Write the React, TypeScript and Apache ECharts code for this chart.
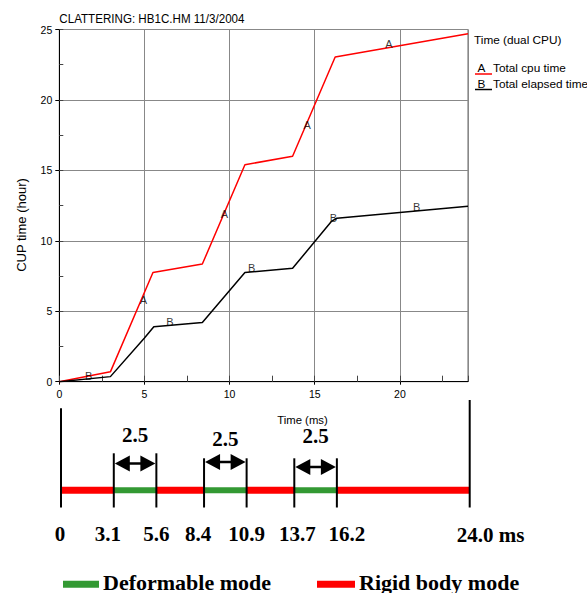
import React, { useEffect, useRef } from "react";
import * as echarts from "echarts";

// ---------- Upper chart: CPU time vs. simulated time ----------
const xTickLabels = [0, 5, 10, 15, 20];
const yTickLabels = [0, 5, 10, 15, 20, 25];
const cpuTime: number[][] = [
  [0, 0], [3.0, 0.7], [5.5, 7.75], [8.4, 8.35], [10.9, 15.4],
  [13.7, 16.0], [16.2, 23.05], [24, 24.7],
];
const elapsedTime: number[][] = [
  [0, 0], [3.0, 0.36], [5.0, 3.1], [5.55, 3.9], [8.4, 4.2], [10.9, 7.75],
  [13.7, 8.05], [16.0, 11.4], [16.3, 11.6], [24, 12.45],
];
const cpuMarks: number[][] = [[4.94, 5.8], [9.7, 11.9], [14.55, 18.2], [19.35, 24.0]];
const elapsedMarks: number[][] = [[1.72, 0.44], [6.5, 4.27], [11.3, 8.06], [16.1, 11.6], [20.98, 12.4]];

// ---------- Lower chart: mode timeline ----------
const modeBounds = [0, 3.1, 5.6, 8.4, 10.9, 13.7, 16.2, 24.0];
const boundLabels = ["0", "3.1", "5.6", "8.4", "10.9", "13.7", "16.2", "24.0 ms"];
const deformableSpans: number[][] = [[3.1, 5.6], [8.4, 10.9], [13.7, 16.2]];
const rigidSpans: number[][] = [[0, 3.1], [5.6, 8.4], [10.9, 13.7], [16.2, 24.0]];

const SANS = "'Liberation Sans', Arial, Helvetica, sans-serif";
const SERIF = "'Liberation Serif', 'Times New Roman', serif";
const RED = "#ff0000";
const GREEN = "#339933";

export default function App() {
  const ref = useRef<HTMLDivElement>(null);

  useEffect(() => {
    document.body.style.margin = "0";
    if (!ref.current) return;
    const chart = echarts.init(ref.current, undefined, { renderer: "svg" });

    const BAR_LEVEL = 100.3;
    const LINE_BOTTOM = 117.5;
    const arrowLevels = [73.5, 72, 77];
    const spanTextLevels = [45, 49, 46];
    const labelNudge = [-1, -6, 0, -6, 0, 3, 10, -13];

    const barItem = (color: string, width: number) => (params: any, api: any) => {
      const a = api.coord([api.value(0), BAR_LEVEL]);
      const b = api.coord([api.value(1), BAR_LEVEL]);
      return {
        type: "line",
        shape: { x1: a[0], y1: a[1], x2: b[0], y2: b[1] },
        style: { stroke: color, lineWidth: width },
      };
    };

    const option: any = {
      animation: false,
      backgroundColor: "#ffffff",
      grid: [
        { left: 59.3, top: 29.5, width: 408.7, height: 352.2, show: true, borderColor: "#666", borderWidth: 1 },
        { left: 61, top: 390, width: 408.7, height: 200, show: false },
      ],
      xAxis: [
        {
          type: "value", gridIndex: 0, min: 0, max: 24,
          interval: xTickLabels[1] - xTickLabels[0], position: "bottom",
          axisLine: { show: true, onZero: false, lineStyle: { color: "#000", width: 1 } },
          axisTick: { show: true, length: 3, lineStyle: { color: "#000" } },
          axisLabel: { color: "#000", fontSize: 10.5, fontFamily: SANS, margin: 7, showMaxLabel: false },
          splitLine: { show: true, lineStyle: { color: "#888", width: 1 } },
        },
        {
          type: "value", gridIndex: 0, min: 0, max: 24, interval: 2.5, position: "bottom",
          axisLine: { show: false },
          axisTick: { show: true, inside: true, length: 6, lineStyle: { color: "#444" } },
          axisLabel: { show: false }, splitLine: { show: false },
        },
        { type: "value", gridIndex: 1, min: 0, max: 24, show: false },
      ],
      yAxis: [
        {
          type: "value", gridIndex: 0, min: 0, max: 25,
          interval: yTickLabels[1] - yTickLabels[0], position: "left",
          axisLine: { show: true, onZero: false, lineStyle: { color: "#000", width: 1 } },
          axisTick: { show: true, length: 4, lineStyle: { color: "#000" } },
          axisLabel: { color: "#000", fontSize: 10.5, fontFamily: SANS, margin: 7 },
          splitLine: { show: true, lineStyle: { color: "#888", width: 1 } },
        },
        {
          type: "value", gridIndex: 0, min: 0, max: 25, interval: 2.5, position: "left",
          axisLine: { show: false },
          axisTick: { show: true, inside: true, length: 4, lineStyle: { color: "#444" } },
          axisLabel: { show: false }, splitLine: { show: false },
        },
        { type: "value", gridIndex: 1, min: 0, max: 200, inverse: true, show: false },
      ],
      series: [
        {
          type: "line", name: "Total cpu time", xAxisIndex: 0, yAxisIndex: 0,
          data: cpuTime, symbol: "none", lineStyle: { color: RED, width: 1.5 },
          itemStyle: { color: RED }, z: 3, silent: true,
        },
        {
          type: "line", name: "Total elapsed time", xAxisIndex: 0, yAxisIndex: 0,
          data: elapsedTime, symbol: "none", lineStyle: { color: "#000", width: 1.5 },
          itemStyle: { color: "#000" }, z: 3, silent: true,
        },
        {
          type: "scatter", xAxisIndex: 0, yAxisIndex: 0, data: cpuMarks, symbolSize: 1,
          itemStyle: { color: "rgba(0,0,0,0)" }, silent: true, z: 5,
          label: { show: true, position: "inside", formatter: "A", color: "#000", fontSize: 11, fontFamily: SANS, textBorderWidth: 0 },
        },
        {
          type: "scatter", xAxisIndex: 0, yAxisIndex: 0, data: elapsedMarks, symbolSize: 1,
          itemStyle: { color: "rgba(0,0,0,0)" }, silent: true, z: 5,
          label: { show: true, position: "inside", formatter: "B", color: "#000", fontSize: 11, fontFamily: SANS, textBorderWidth: 0 },
        },
        // timeline bars
        {
          type: "custom", xAxisIndex: 2, yAxisIndex: 2, data: rigidSpans, clip: false, silent: true,
          renderItem: barItem(RED, 7), z: 2,
        },
        {
          type: "custom", xAxisIndex: 2, yAxisIndex: 2, data: deformableSpans, clip: false, silent: true,
          renderItem: barItem(GREEN, 6), z: 3,
        },
        // vertical boundary lines
        {
          type: "custom", xAxisIndex: 2, yAxisIndex: 2, clip: false, silent: true, z: 4,
          data: modeBounds.map((v, i) => [v, i]),
          renderItem: (params: any, api: any) => {
            const i = api.value(1);
            const n = modeBounds.length;
            const top = i === 0 ? 18.3 : i === n - 1 ? 10 : i <= 2 ? 63.3 : 68.3;
            const a = api.coord([api.value(0), top]);
            const b = api.coord([api.value(0), LINE_BOTTOM]);
            return {
              type: "line",
              shape: { x1: a[0], y1: a[1], x2: b[0], y2: b[1] },
              style: { stroke: "#000", lineWidth: 2 },
            };
          },
        },
        // arrows and span durations
        {
          type: "custom", xAxisIndex: 2, yAxisIndex: 2, clip: false, silent: true, z: 5,
          data: deformableSpans,
          renderItem: (params: any, api: any) => {
            const idx = params.dataIndex;
            const s = api.value(0);
            const e = api.value(1);
            const a = api.coord([s, arrowLevels[idx]]);
            const b = api.coord([e, arrowLevels[idx]]);
            const t = api.coord([(s + e) / 2, spanTextLevels[idx]]);
            const x1 = a[0] + 1;
            const x2 = b[0] - 1;
            const y = a[1];
            const L = 15;
            const H = 8;
            return {
              type: "group",
              children: [
                { type: "line", shape: { x1: x1 + 4, y1: y, x2: x2 - 4, y2: y }, style: { stroke: "#000", lineWidth: 2.6 } },
                { type: "polygon", shape: { points: [[x1, y], [x1 + L, y - H], [x1 + L, y + H]] }, style: { fill: "#000" } },
                { type: "polygon", shape: { points: [[x2, y], [x2 - L, y - H], [x2 - L, y + H]] }, style: { fill: "#000" } },
                {
                  type: "text", x: t[0], y: t[1],
                  style: {
                    text: (e - s).toFixed(1), fill: "#000", fontSize: 21, lineHeight: 15, fontWeight: "bold",
                    fontFamily: SERIF, align: "center", verticalAlign: "middle",
                  },
                },
              ],
            };
          },
        },
        // boundary values
        {
          type: "custom", xAxisIndex: 2, yAxisIndex: 2, clip: false, silent: true, z: 5,
          data: modeBounds.map((v, i) => [v, i]),
          renderItem: (params: any, api: any) => {
            const i = api.value(1);
            const last = i === modeBounds.length - 1;
            const p = api.coord([api.value(0), last ? 145 : 143.5]);
            return {
              type: "text", x: p[0] + labelNudge[i], y: p[1],
              style: {
                text: boundLabels[i], fill: "#000", fontSize: 21, fontWeight: "bold",
                fontFamily: SERIF, align: last ? "left" : "center", verticalAlign: "middle",
              },
            };
          },
        },
      ],
      graphic: [
        {
          type: "text", x: 59.3, y: 19, scaleX: 0.86,
          style: { text: "CLATTERING: HB1C.HM 11/3/2004", fill: "#000", fontSize: 13.5, fontFamily: SANS, align: "left", verticalAlign: "middle" },
        },
        {
          type: "text", x: 21, y: 225, rotation: Math.PI / 2,
          style: { text: "CUP time (hour)", fill: "#000", fontSize: 13, fontFamily: SANS, align: "center", verticalAlign: "middle" },
        },
        {
          type: "text", x: 302.5, y: 420,
          style: { text: "Time (ms)", fill: "#000", fontSize: 11.3, lineHeight: 11, fontFamily: SANS, align: "center", verticalAlign: "middle" },
        },
        {
          type: "text", x: 474, y: 40,
          style: { text: "Time (dual CPU)", fill: "#000", fontSize: 11.8, fontFamily: SANS, align: "left", verticalAlign: "middle" },
        },
        {
          type: "text", x: 481.5, y: 68,
          style: { text: "A", fill: "#000", fontSize: 11.8, fontFamily: SANS, align: "center", verticalAlign: "middle" },
        },
        { type: "line", shape: { x1: 475, y1: 74, x2: 492, y2: 74 }, style: { stroke: RED, lineWidth: 1.5 } },
        {
          type: "text", x: 493, y: 68,
          style: { text: "Total cpu time", fill: "#000", fontSize: 11.8, fontFamily: SANS, align: "left", verticalAlign: "middle" },
        },
        {
          type: "text", x: 481.5, y: 84,
          style: { text: "B", fill: "#000", fontSize: 11.8, fontFamily: SANS, align: "center", verticalAlign: "middle" },
        },
        { type: "line", shape: { x1: 475, y1: 89.5, x2: 492, y2: 89.5 }, style: { stroke: "#000", lineWidth: 1.5 } },
        {
          type: "text", x: 493, y: 84,
          style: { text: "Total elapsed time", fill: "#000", fontSize: 11.8, fontFamily: SANS, align: "left", verticalAlign: "middle" },
        },
        { type: "rect", shape: { x: 63, y: 580.7, width: 36, height: 7 }, style: { fill: GREEN } },
        {
          type: "text", x: 103, y: 582,
          style: { text: "Deformable mode", fill: "#000", fontSize: 22, lineHeight: 21, fontWeight: "bold", fontFamily: SERIF, align: "left", verticalAlign: "middle" },
        },
        { type: "rect", shape: { x: 317, y: 580.7, width: 38, height: 7 }, style: { fill: RED } },
        {
          type: "text", x: 359, y: 582,
          style: { text: "Rigid body mode", fill: "#000", fontSize: 22, lineHeight: 21, fontWeight: "bold", fontFamily: SERIF, align: "left", verticalAlign: "middle" },
        },
      ],
    };

    chart.setOption(option);
    return () => chart.dispose();
  }, []);

  return <div ref={ref} style={{ width: 587, height: 593 }} />;
}
